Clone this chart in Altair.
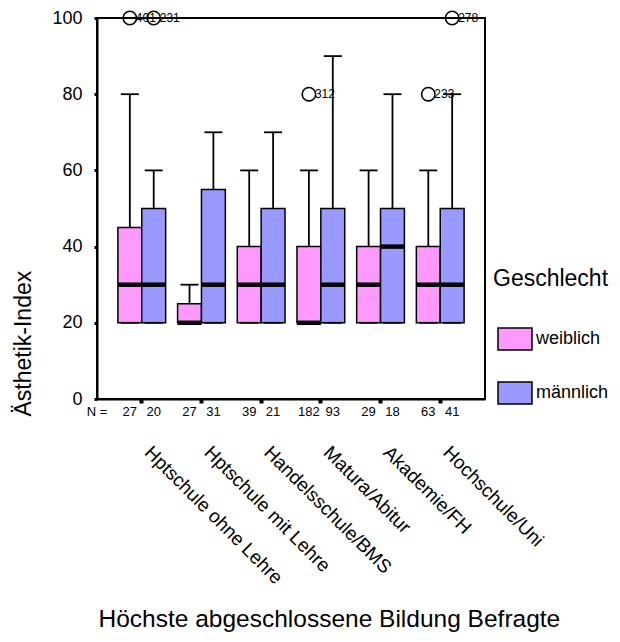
import altair as alt
import pandas as pd

# ---- data ----
bildung = ["Hptschule ohne Lehre", "Hptschule mit Lehre", "Handelsschule/BMS",
           "Matura/Abitur", "Akademie/FH", "Hochschule/Uni"]
geschlecht = ["weiblich", "männlich"]

w_min = [20, 20, 20, 20, 20, 20]
w_q1 = [20, 20, 20, 20, 20, 20]
w_med = [30, 20, 30, 20, 30, 30]
w_q3 = [45, 25, 40, 40, 40, 40]
w_max = [80, 30, 60, 60, 60, 60]
n_w = [27, 27, 39, 182, 29, 63]

m_min = [20, 20, 20, 20, 20, 20]
m_q1 = [20, 20, 20, 20, 20, 20]
m_med = [30, 30, 30, 30, 40, 30]
m_q3 = [50, 55, 50, 50, 50, 50]
m_max = [60, 70, 70, 90, 80, 80]
n_m = [20, 31, 21, 93, 18, 41]

out_bildung = ["Hptschule ohne Lehre", "Hptschule ohne Lehre", "Matura/Abitur",
               "Hochschule/Uni", "Hochschule/Uni"]
out_sex = ["weiblich", "männlich", "weiblich", "weiblich", "männlich"]
out_value = [100, 100, 80, 80, 100]
out_label = ["401", "231", "312", "233", "278"]

rows = []
for i, b in enumerate(bildung):
    rows.append(dict(Bildung=b, Geschlecht="weiblich", lo=w_min[i], q1=w_q1[i],
                     med=w_med[i], q3=w_q3[i], hi=w_max[i], N=str(n_w[i])))
    rows.append(dict(Bildung=b, Geschlecht="männlich", lo=m_min[i], q1=m_q1[i],
                     med=m_med[i], q3=m_q3[i], hi=m_max[i], N=str(n_m[i])))
df = pd.DataFrame(rows)
odf = pd.DataFrame(dict(Bildung=out_bildung, Geschlecht=out_sex,
                        v=out_value, lab=out_label))

FONT = "Liberation Sans"
PINK = "#FF99FF"
BLUE = "#9999FF"

x_enc = alt.X("Bildung:N", sort=bildung,
              scale=alt.Scale(domain=bildung, paddingInner=0, paddingOuter=0.25),
              axis=alt.Axis(title="Höchste abgeschlossene Bildung Befragte",
                            labelAngle=45, labelAlign="left", labelBaseline="middle",
                            labelPadding=46, labelOffset=6, labelFontSize=19,
                            labelLimit=400,
                            tickSize=4, tickWidth=4, tickColor="black",
                            domainColor="black", domainWidth=2,
                            titleFontSize=24.5, titleFontWeight="normal",
                            titleX=1, titleY=227, titleAlign="left",
                            titleBaseline="alphabetic", titleAnchor="start"))
xo_enc = alt.XOffset("Geschlecht:N", sort=geschlecht,
                     scale=alt.Scale(domain=geschlecht, paddingInner=0, paddingOuter=0.25))

y_scale = alt.Scale(domain=[0, 100], nice=False, zero=True)
y_axis = alt.Axis(title="Ästhetik-Index", values=[0, 20, 40, 60, 80, 100],
                  labelFontSize=18, labelPadding=12, tickSize=3, tickWidth=3,
                  tickColor="black", domainColor="black", domainWidth=2,
                  grid=False, titleFontSize=23, titleFontWeight="normal",
                  titleAngle=270, titleX=-67, titleY=398, titleAlign="left",
                  titleBaseline="alphabetic")

base = alt.Chart(df)

boxes = base.mark_bar(stroke="black", strokeWidth=1.5, opacity=1).encode(
    x=x_enc, xOffset=xo_enc,
    y=alt.Y("q1:Q", scale=y_scale, axis=y_axis), y2="q3:Q",
    color=alt.Color("Geschlecht:N", sort=geschlecht,
                    scale=alt.Scale(domain=geschlecht, range=[PINK, BLUE]),
                    legend=alt.Legend(
                        title="Geschlecht", orient="none", legendX=396, legendY=250,
                        titleFontSize=23, titleFontWeight="normal", titlePadding=30,
                        labelFontSize=18, labelOffset=3, rowPadding=22,
                        symbolType="M-1,-0.647H1V0.647H-1Z", symbolSize=1156,
                        symbolStrokeColor="black", symbolStrokeWidth=1.5,
                        symbolOpacity=1, symbolOffset=4, padding=0)),
)

upper_whisker = base.mark_rule(color="black", strokeWidth=1.8).encode(
    x=x_enc, xOffset=xo_enc, y=alt.Y("q3:Q", scale=y_scale), y2="hi:Q")
lower_whisker = base.mark_rule(color="black", strokeWidth=1.8).encode(
    x=x_enc, xOffset=xo_enc, y=alt.Y("lo:Q", scale=y_scale), y2="q1:Q")
upper_cap = base.mark_tick(color="black", thickness=1.8, size=18, opacity=1).encode(
    x=x_enc, xOffset=xo_enc, y=alt.Y("hi:Q", scale=y_scale))
lower_cap = base.mark_tick(color="black", thickness=1.8, size=18, opacity=1).encode(
    x=x_enc, xOffset=xo_enc, y=alt.Y("lo:Q", scale=y_scale))
median = base.mark_tick(color="black", thickness=4.5, size=24, opacity=1).encode(
    x=x_enc, xOffset=xo_enc, y=alt.Y("med:Q", scale=y_scale))

ntext = base.mark_text(fontSize=13, font=FONT, color="black", baseline="middle").encode(
    x=x_enc, xOffset=xo_enc, y=alt.value(394), text="N:N")
nlabel = alt.Chart(pd.DataFrame({"t": ["N ="]})).mark_text(
    fontSize=13, font=FONT, color="black", baseline="middle", align="center").encode(
    x=alt.value(0), y=alt.value(394), text="t:N")

ob = alt.Chart(odf)
outl = ob.mark_point(shape="circle", filled=False, size=180, color="black",
                     strokeWidth=1.6, opacity=1).encode(
    x=x_enc, xOffset=xo_enc, y=alt.Y("v:Q", scale=y_scale))
outlab = ob.mark_text(fontSize=12, font=FONT, color="black", align="left",
                      baseline="middle", dx=6).encode(
    x=x_enc, xOffset=xo_enc, y=alt.Y("v:Q", scale=y_scale), text="lab:N")

chart = alt.layer(boxes, upper_whisker, lower_whisker, upper_cap, lower_cap, median,
                  ntext, nlabel, outl, outlab).properties(
    width=388, height=381,
    autosize=alt.AutoSizeParams(type="none"),
    padding={"left": 97, "top": 18, "right": 135, "bottom": 243},
    background="white",
).configure(font=FONT).configure_view(
    stroke="black", strokeWidth=2
).configure_axis(labelColor="black", titleColor="black", labelFont=FONT, titleFont=FONT
).configure_legend(labelColor="black", titleColor="black", labelFont=FONT, titleFont=FONT)

chart.save("out.html", embed_options={"renderer": "svg", "actions": False})
